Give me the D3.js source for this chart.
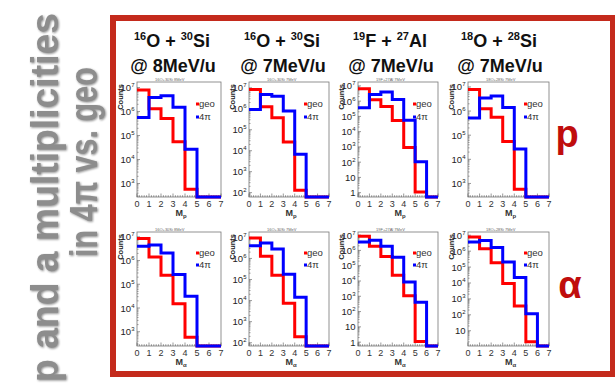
<!DOCTYPE html>
<html>
<head>
<meta charset="utf-8">
<script src="https://cdn.jsdelivr.net/npm/d3@7"></script>
<style>
  body { margin: 0; background: #fff; }
  text { font-family: "Liberation Sans", Arial, sans-serif; }
</style>
</head>
<body>
<svg id="chart" width="615" height="390"></svg>
<script>
// multiplicity bins (lower edges), histogram range is 0..7
const bins = [0, 1, 2, 3, 4, 5, 6];
const xTicks = [0, 1, 2, 3, 4, 5, 6, 7];
const reactions = [["16", "O + ", "30", "Si"], ["16", "O + ", "30", "Si"], ["19", "F + ", "27", "Al"], ["18", "O + ", "28", "Si"]];
const energies = ["@ 8MeV/u", "@ 7MeV/u", "@ 7MeV/u", "@ 7MeV/u"];
const tinyTitles = ["16O+30Si 8MeV", "16O+30Si 7MeV", "19F+27Al 7MeV", "18O+28Si 7MeV"];
const particles = ["p", "\u03b1"];
const seriesNames = ["geo", "4\u03c0"];

// counts per bin, one row per reaction (0 = empty bin)
const protonGeo = [
  [7.9e6, 1.3e6, 5.1e5, 5.5e4, 580, 0, 0],
  [8.3e6, 1.26e6, 3.7e5, 2.6e4, 130, 0, 0],
  [6.6e6, 1.23e6, 4.5e5, 5.4e4, 930, 1.1, 0],
  [7.9e6, 1.26e6, 5.6e5, 5.5e4, 575, 0, 0]
];
const proton4pi = [
  [5.6e5, 3.8e6, 4.5e6, 1.5e6, 2.7e4, 0, 0],
  [9.3e5, 4.8e6, 4.0e6, 7.8e5, 6.8e3, 0, 0],
  [3.7e5, 2.75e6, 4.0e6, 1.3e6, 5.6e4, 107, 0],
  [5.1e5, 3.5e6, 4.2e6, 1.4e6, 2.7e4, 0, 0]
];
const alphaGeo = [
  [8.5e6, 1.4e6, 2.4e5, 1.5e4, 590, 0, 0],
  [9.3e6, 1.26e6, 1.6e5, 7.4e3, 190, 0, 0],
  [8.5e6, 1.86e6, 4.0e5, 2.4e4, 1100, 1.1, 0],
  [7.9e6, 1.4e6, 1.9e5, 9.3e3, 360, 2, 0]
];
const alpha4pi = [
  [4.0e6, 4.5e6, 2.1e6, 2.6e5, 3.1e4, 0, 0],
  [4.0e6, 5.4e6, 2.8e6, 1.8e5, 1.45e4, 0, 0],
  [3.6e6, 4.7e6, 1.86e6, 3.6e5, 8.5e3, 400, 0],
  [3.7e6, 4.7e6, 1.7e6, 2.1e5, 2.2e4, 117, 0]
];
// log axis range [min, max] of each panel
const protonRange = [[275, 1.7e7], [62, 1.9e7], [0.52, 1.8e7], [275, 1.6e7]];
const alphaRange = [[250, 1.6e7], [70, 1.8e7], [0.56, 1.6e7], [1.1, 1.6e7]];

const rows = [
  { geo: protonGeo, all: proton4pi, range: protonRange, top: 82, bottom: 197 },
  { geo: alphaGeo, all: alpha4pi, range: alphaRange, top: 232, bottom: 346 }
];
const frameL = [137, 249, 358, 468];
const frameR = [221, 329, 438, 549];
const titleX = [172, 282, 390, 499];
const colors = ["#ff0000", "#0000ff"];

const svg = d3.select("#chart");

// red box round the plots
svg.append("rect")
  .attr("x", 113).attr("y", 18).attr("width", 500).attr("height", 356)
  .attr("fill", "none").attr("stroke", "#c42a1c").attr("stroke-width", 6);

// rotated gray heading on the left
const side = svg.append("g")
  .style("filter", "drop-shadow(1px 1px 1.2px rgba(0,0,0,0.45))");
side.append("text")
  .attr("transform", "translate(58,382) rotate(-90)")
  .attr("font-size", 38).attr("font-weight", "bold").attr("fill", "#8d8d8d")
  .attr("textLength", 369).attr("lengthAdjust", "spacingAndGlyphs")
  .text("p and a multiplicities");
side.append("text")
  .attr("transform", "translate(97,257) rotate(-90)")
  .attr("font-size", 38).attr("font-weight", "bold").attr("fill", "#8d8d8d")
  .attr("textLength", 190).attr("lengthAdjust", "spacingAndGlyphs")
  .text("in 4\u03c0 vs. geo");

// reaction titles
reactions.forEach((r, c) => {
  const t = svg.append("text").attr("x", titleX[c]).attr("y", 47)
    .attr("text-anchor", "middle").attr("font-size", 18).attr("font-weight", "bold").attr("fill", "#111");
  t.append("tspan").attr("font-size", 11).attr("dy", -7).text(r[0]);
  t.append("tspan").attr("dy", 7).text(r[1]);
  t.append("tspan").attr("font-size", 11).attr("dy", -7).text(r[2]);
  t.append("tspan").attr("dy", 7).text(r[3]);
  svg.append("text").attr("x", titleX[c] + 1).attr("y", 72)
    .attr("text-anchor", "middle").attr("font-size", 18).attr("font-weight", "bold").attr("fill", "#111")
    .text(energies[c]);
});

// particle labels on the right
svg.append("text").attr("x", 567).attr("y", 147).attr("text-anchor", "middle")
  .attr("font-size", 38).attr("font-weight", "bold").attr("fill", "#c00d0d").text(particles[0]);
svg.append("text").attr("x", 570).attr("y", 298).attr("text-anchor", "middle")
  .attr("font-size", 38).attr("font-weight", "bold").attr("fill", "#c00d0d").text(particles[1]);

rows.forEach((row, r) => {
  frameL.forEach((L, c) => {
    const R = frameR[c];
    const [yMin, yMax] = row.range[c];
    const x = d3.scaleLinear().domain([0, 7]).range([L, R]);
    const y = d3.scaleLog().domain([yMin, yMax]).range([row.bottom, row.top]);
    const yv = v => (v > yMin ? y(v) : row.bottom);
    const g = svg.append("g");

    // frame
    g.append("rect").attr("x", L).attr("y", row.top)
      .attr("width", R - L).attr("height", row.bottom - row.top)
      .attr("fill", "#fff").attr("stroke", "#777").attr("stroke-width", 0.8);

    // tiny panel title
    g.append("text").attr("x", L + 18).attr("y", row.top - 1.5)
      .attr("font-size", 4).attr("fill", "#666").text(tinyTitles[c]);

    // x ticks
    const minorX = d3.range(0, 7.001, 0.2);
    g.selectAll(null).data(minorX).enter().append("line")
      .attr("x1", d => x(d)).attr("x2", d => x(d))
      .attr("y1", row.bottom).attr("y2", d => row.bottom - (Math.abs(d - Math.round(d)) < 1e-6 ? 3.5 : 1.8))
      .attr("stroke", "#555").attr("stroke-width", 0.6);
    g.selectAll(null).data(xTicks).enter().append("text")
      .attr("x", d => x(d)).attr("y", row.bottom + 9.5)
      .attr("text-anchor", "middle").attr("font-size", 9).attr("fill", "#333")
      .text(d => d);
    const xl = g.append("text").attr("x", (L + R) / 2 + 2).attr("y", row.bottom + 18.5)
      .attr("text-anchor", "middle").attr("font-size", 9).attr("font-weight", "bold").attr("fill", "#333");
    xl.append("tspan").text("M");
    xl.append("tspan").attr("font-size", 6).attr("dy", 2).text(particles[r]);

    // y ticks (log decades)
    const lo = Math.ceil(Math.log10(yMin) - 1e-9), hi = Math.floor(Math.log10(yMax));
    const decades = d3.range(lo, hi + 1);
    const minorY = [];
    d3.range(lo - 1, hi + 1).forEach(k => {
      for (let m = 2; m <= 9; m++) {
        const v = m * Math.pow(10, k);
        if (v > yMin && v < yMax) minorY.push(v);
      }
    });
    g.selectAll(null).data(minorY).enter().append("line")
      .attr("x1", L).attr("x2", L + 1.6).attr("y1", d => y(d)).attr("y2", d => y(d))
      .attr("stroke", "#555").attr("stroke-width", 0.5);
    g.selectAll(null).data(decades).enter().append("line")
      .attr("x1", L).attr("x2", L + 3).attr("y1", k => y(Math.pow(10, k))).attr("y2", k => y(Math.pow(10, k)))
      .attr("stroke", "#555").attr("stroke-width", 0.6);
    const yl = g.selectAll(null).data(decades).enter().append("text")
      .attr("x", L - 2.5).attr("y", k => y(Math.pow(10, k)) + 3.5)
      .attr("text-anchor", "end").attr("font-size", 9.5).attr("fill", "#222");
    yl.append("tspan").text(k => (k === 0 ? "1" : "10"));
    yl.append("tspan").attr("font-size", 6).attr("dy", -4)
      .text(k => (k >= 2 ? k : ""));

    g.append("text")
      .attr("transform", `translate(${L - 14},${row.top + 2}) rotate(-90)`)
      .attr("text-anchor", "end").attr("font-size", 7.5).attr("font-weight", "bold").attr("fill", "#222")
      .text("Counts");

    // histograms
    const line = d3.line().x(d => x(d[0])).y(d => yv(d[1])).curve(d3.curveStepAfter);
    [row.geo[c], row.all[c]].forEach((vals, s) => {
      const pts = bins.map((b, i) => [b, vals[i]]);
      pts.push([7, vals[vals.length - 1]]);
      g.append("path").attr("d", line(pts))
        .attr("fill", "none").attr("stroke", colors[s]).attr("stroke-width", 3);
    });

    // legend
    const legY = r === 0 ? [25, 38] : [24, 36];
    seriesNames.forEach((name, s) => {
      g.append("rect").attr("x", R - 25).attr("y", row.top + legY[s] - 4.5)
        .attr("width", 3).attr("height", 3).attr("fill", colors[s]);
      g.append("text").attr("x", R - 22).attr("y", row.top + legY[s])
        .attr("font-size", 9.5).attr("fill", "#333").text(name);
    });
  });
});
</script>
</body>
</html>
